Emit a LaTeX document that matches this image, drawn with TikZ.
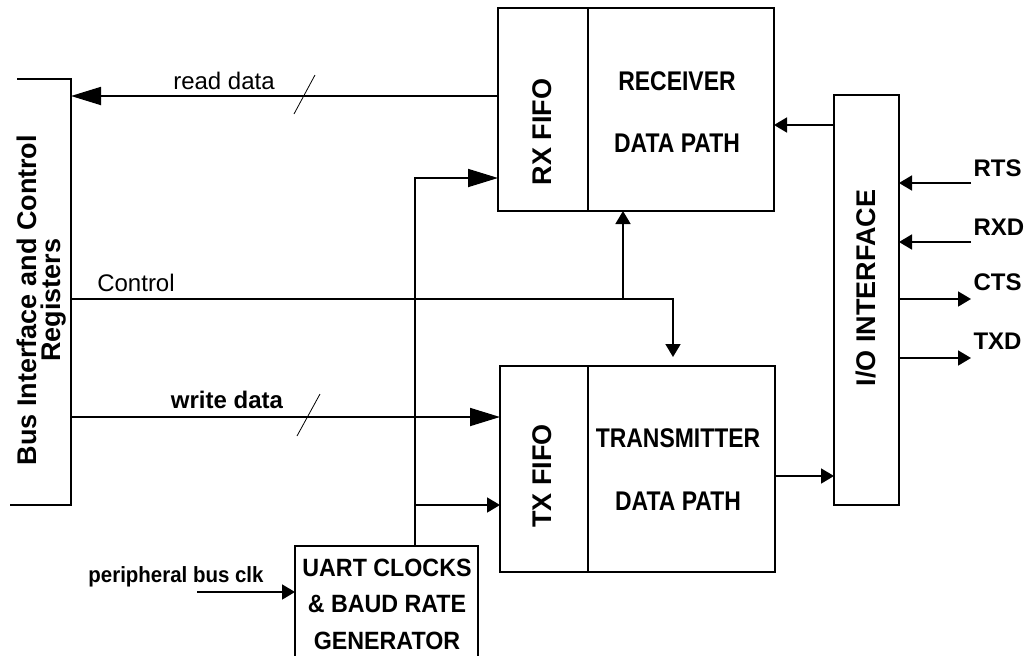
\documentclass[tikz,border=0pt]{standalone}
\usepackage{fontspec}
\setmainfont{Liberation Sans}
\newfontfamily\condfont{Liberation Sans}[FakeStretch=0.85]
\newfontfamily\semifont{Liberation Sans}[FakeStretch=0.93]
\usetikzlibrary{shapes,arrows.meta,positioning,calc,fit}

\begin{document}
\begin{tikzpicture}[x=1pt, y=-1pt,
    blk/.style={draw, line width=2pt, inner sep=0pt, outer sep=0pt},
    wire/.style={line width=1.8pt},
    bigtip/.style={wire, -{Triangle[length=30pt,width=18pt]}},
    smalltip/.style={wire, -{Triangle[length=13pt,width=15pt]}},
    lbl/.style={font=\fontsize{23}{28}\selectfont\bfseries, align=center},
    vlbl/.style={font=\fontsize{27}{24}\selectfont\bfseries, align=center, rotate=90},
    sig/.style={font=\fontsize{24}{28}\selectfont}]
\useasboundingbox (0,0) rectangle (1026,656);
\clip (0,0) rectangle (1026,656);

% Bus interface block (open on the left)
\node[minimum width=61pt, minimum height=426pt, inner sep=0pt, outer sep=0pt] (bus) at (40.5,292) {};
\draw[line width=2pt] ([xshift=7pt]bus.north west) -- (bus.north east) -- (bus.south east) -- (bus.south west);
\node[vlbl] (bustxt) at (42,300) {Bus Interface and Control\\Registers};

% Receiver
\node[blk, minimum width=90pt, minimum height=203pt] (rxfifo) at (543,109.5) {};
\node[blk, minimum width=186pt, minimum height=203pt, right=0pt of rxfifo] (rxdp) {};
\node[vlbl] (rxfifotxt) at (542,132) {RX FIFO};
\node[lbl, font=\fontsize{27}{62}\condfont\bfseries] (rxdptxt) at (677,112) {RECEIVER\\DATA PATH};

% Transmitter
\node[blk, minimum width=88pt, minimum height=206pt] (txfifo) at (544,469) {};
\node[blk, minimum width=187pt, minimum height=206pt, right=0pt of txfifo] (txdp) {};
\node[vlbl] (txfifotxt) at (542,476) {TX FIFO};
\node[lbl, font=\fontsize{27}{63}\condfont\bfseries] (txdptxt) at (678,470) {TRANSMITTER\\DATA PATH};

% I/O interface
\node[blk, minimum width=65pt, minimum height=410pt] (io) at (866.5,300) {};
\node[vlbl] (iotxt) at (866,288) {I/O INTERFACE};

% Clock generator
\node[blk, minimum width=183pt, minimum height=140pt, anchor=north west] (uart) at (295,546) {};
\node[lbl, font=\fontsize{25}{36.5}\semifont\bfseries] (uarttxt) at (387,604) {UART CLOCKS\\\& BAUD RATE\\GENERATOR};

% read data
\draw[bigtip] (rxfifo.west |- 0,96) -- (bus.east |- 0,96);
\node[sig] (rdlbl) at (224,81) {read data};
\draw[line width=0.8pt] (294,114) -- (315,75);

% Control
\coordinate (ctl) at (623,299);
\draw[smalltip] (bus.east |- ctl) -| ($(txdp.north -| 673,0)+(0,-9)$);
\draw[smalltip] (ctl) -- (rxdp.south -| ctl);
\node[sig] (ctllbl) at (136,283) {Control};

% write data
\draw[bigtip] (bus.east |- 0,417) -- (txfifo.west |- 0,417);
\node[lbl, font=\fontsize{24}{28}\selectfont\bfseries] (wrlbl) at (227,400) {write data};
\draw[line width=0.8pt] (297,436) -- (320,394);

% Clocks
\coordinate (clk) at (415,505);
\draw[bigtip] (uart.north -| clk) |- (rxfifo.west |- 0,178);
\draw[smalltip] (clk) -- (txfifo.west |- clk);
\coordinate (pclk) at (197,592);
\draw[smalltip] (pclk) -- (uart.west |- pclk);
\node[lbl, font=\fontsize{22}{24}\semifont\bfseries] (pclklbl) at (176,577) {peripheral bus clk};

% Data paths to and from I/O
\draw[smalltip] (io.west |- 0,125) -- (rxdp.east |- 0,125);
\draw[smalltip] (txdp.east |- 0,476) -- (io.west |- 0,476);

% Serial signals
\foreach \y/\name in {183/RTS, 242/RXD} {
    \draw[smalltip] (971,\y) -- (io.east |- 0,\y);
    \node[lbl, font=\fontsize{24}{28}\selectfont\bfseries, anchor=west] (\name) at (970,\y-15) {\name};
}
\foreach \y/\name in {299/CTS, 358/TXD} {
    \draw[smalltip] (io.east |- 0,\y) -- (971,\y);
    \node[lbl, font=\fontsize{24}{28}\selectfont\bfseries, anchor=west] (\name) at (970,\y-17) {\name};
}
\end{tikzpicture}
\end{document}
